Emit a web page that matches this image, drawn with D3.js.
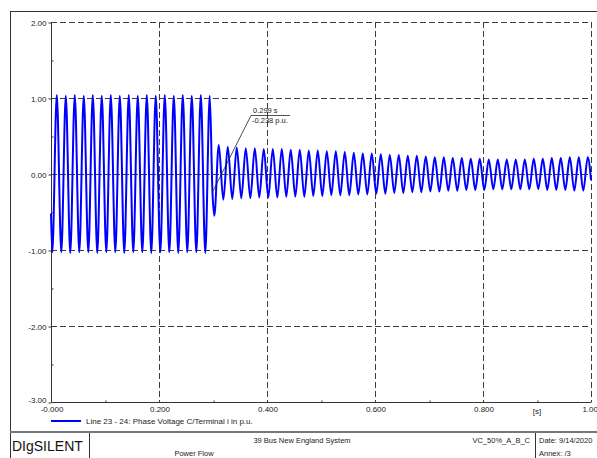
<!DOCTYPE html>
<html>
<head>
<meta charset="utf-8">
<script src="https://cdn.jsdelivr.net/npm/d3@7"></script>
<style>
  html, body { margin: 0; padding: 0; background: #ffffff; }
  svg { display: block; font-family: "Liberation Sans", Arial, sans-serif; }
</style>
</head>
<body>
<svg id="chart" width="597" height="458"></svg>
<script>
// Simulated phase voltage C at terminal i (Line 23 - 24), p.u.
// Samples at the waveform extrema: steady state, fault at ~0.29 s, damped aftermath.
const timeS = [
  0.0000, 0.0024, 0.0107, 0.0191, 0.0274, 0.0357, 0.0440, 0.0524, 0.0607, 0.0691,
  0.0774, 0.0857, 0.0940, 0.1024, 0.1107, 0.1191, 0.1274, 0.1357, 0.1440, 0.1524,
  0.1607, 0.1691, 0.1774, 0.1857, 0.1940, 0.2024, 0.2107, 0.2191, 0.2274, 0.2357,
  0.2440, 0.2524, 0.2607, 0.2691, 0.2774, 0.2857, 0.2940, 0.2990, 0.3024, 0.3107,
  0.3191, 0.3274, 0.3357, 0.3440, 0.3524, 0.3607, 0.3691, 0.3774, 0.3857, 0.3940,
  0.4024, 0.4107, 0.4191, 0.4274, 0.4357, 0.4440, 0.4524, 0.4607, 0.4691, 0.4774,
  0.4857, 0.4940, 0.5024, 0.5107, 0.5191, 0.5274, 0.5357, 0.5440, 0.5524, 0.5607,
  0.5691, 0.5774, 0.5857, 0.5940, 0.6024, 0.6107, 0.6191, 0.6274, 0.6357, 0.6440,
  0.6524, 0.6607, 0.6691, 0.6774, 0.6857, 0.6940, 0.7024, 0.7107, 0.7191, 0.7274,
  0.7357, 0.7440, 0.7524, 0.7607, 0.7691, 0.7774, 0.7857, 0.7940, 0.8024, 0.8107,
  0.8191, 0.8274, 0.8357, 0.8440, 0.8524, 0.8607, 0.8691, 0.8774, 0.8857, 0.8940,
  0.9024, 0.9107, 0.9191, 0.9274, 0.9357, 0.9440, 0.9524, 0.9607, 0.9691, 0.9774,
  0.9857, 0.9940, 1.0000
];
const voltagePU = [
  -0.52, -1.03,  1.04, -1.03,  1.03, -1.04,  1.04, -1.03,  1.03, -1.03,
   1.04, -1.04,  1.03, -1.03,  1.04, -1.03,  1.03, -1.04,  1.04, -1.03,
   1.03, -1.03,  1.04, -1.04,  1.03, -1.03,  1.04, -1.03,  1.03, -1.04,
   1.04, -1.03,  1.03, -1.03,  1.04, -1.04,  1.03, -0.238, -0.55, 0.38,
  -0.34,  0.36, -0.33,  0.35, -0.32,  0.34, -0.32,  0.34, -0.31,  0.33,
  -0.31,  0.33, -0.31,  0.33, -0.30,  0.32, -0.30,  0.32, -0.30,  0.31,
  -0.29,  0.31, -0.29,  0.30, -0.28,  0.30, -0.28,  0.29, -0.28,  0.28,
  -0.27,  0.27, -0.27,  0.27, -0.26,  0.26, -0.26,  0.25, -0.25,  0.25,
  -0.25,  0.24, -0.24,  0.24, -0.24,  0.23, -0.23,  0.22, -0.23,  0.22,
  -0.22,  0.21, -0.22,  0.21, -0.21,  0.20, -0.21,  0.20, -0.21,  0.19,
  -0.20,  0.19, -0.20,  0.19, -0.20,  0.19, -0.20,  0.19, -0.20,  0.20,
  -0.20,  0.20, -0.21,  0.21, -0.21,  0.21, -0.21,  0.22, -0.22,  0.22,
  -0.22,  0.22, -0.08
];

const xTicks = [0, 0.2, 0.4, 0.6, 0.8, 1.0];
const xTickLabels = ["-0.000", "0.200", "0.400", "0.600", "0.800", "1.00"];
const xMinorTicks = [0.1, 0.3, 0.5, 0.7, 0.9];
const yTicks = [-3, -2, -1, 0, 1, 2];
const yTickLabels = ["-3.00", "-2.00", "-1.00", "0.00", "1.00", "2.00"];
const yMinorTicks = [-2.5, -1.5, -0.5, 0.5, 1.5];

const cursorTime = 0.299;
const cursorValue = -0.238;
const legendText = "Line 23 - 24: Phase Voltage C/Terminal i in p.u.";

const svg = d3.select("#chart");
const plot = { left: 51, right: 591, top: 22, bottom: 402 };
const x = d3.scaleLinear().domain([0, 1]).range([plot.left, plot.right]);
const y = d3.scaleLinear().domain([-3, 2]).range([plot.bottom, plot.top]);
const ink = "#333333";
const font = "8px";
const smallFont = "7.5px";

// page frame
svg.append("line").attr("x1", 10).attr("x2", 597).attr("y1", 11.5).attr("y2", 11.5)
  .attr("stroke", ink).attr("stroke-width", 1);
svg.append("line").attr("x1", 10.5).attr("x2", 10.5).attr("y1", 11).attr("y2", 458)
  .attr("stroke", ink).attr("stroke-width", 1);

// dashed grid
const grid = svg.append("g").attr("stroke", "#3c3c3c").attr("stroke-width", 1)
  .attr("stroke-dasharray", "6,3");
grid.selectAll("line.v").data(xTicks.slice(1)).join("line")
  .attr("x1", d => Math.round(x(d)) + 0.5).attr("x2", d => Math.round(x(d)) + 0.5)
  .attr("y1", plot.top).attr("y2", plot.bottom);
grid.selectAll("line.h").data(yTicks.slice(1)).join("line")
  .attr("x1", plot.left).attr("x2", plot.right)
  .attr("y1", d => Math.round(y(d)) + 0.5).attr("y2", d => Math.round(y(d)) + 0.5);

// axes
const yAxis = svg.append("g").attr("transform", `translate(${plot.left + 0.5},0.5)`)
  .call(d3.axisLeft(y).tickValues(yTicks).tickSize(3).tickPadding(2)
    .tickFormat((d, i) => yTickLabels[i]));
const yMinor = svg.append("g").attr("transform", `translate(${plot.left + 0.5},0.5)`)
  .call(d3.axisLeft(y).tickValues(yMinorTicks).tickSize(-2).tickFormat(""));
const xAxis = svg.append("g").attr("transform", `translate(0.5,${plot.bottom + 0.5})`)
  .call(d3.axisBottom(x).tickValues(xTicks).tickSize(0).tickPadding(4)
    .tickFormat((d, i) => xTickLabels[i]));
const xMinor = svg.append("g").attr("transform", `translate(0.5,${plot.bottom + 0.5})`)
  .call(d3.axisBottom(x).tickValues(xMinorTicks).tickSize(-2).tickFormat(""));
[yAxis, yMinor, xAxis, xMinor].forEach(g => {
  g.select(".domain").attr("stroke", ink);
  g.selectAll(".tick line").attr("stroke", ink);
  g.selectAll("text").attr("fill", "#222").style("font-size", font)
    .style("font-family", "'Liberation Sans', Arial, sans-serif");
});
yAxis.select(".domain").attr("d", `M0,${plot.top}V${plot.bottom}`);
yMinor.select(".domain").remove();
xMinor.select(".domain").remove();
xAxis.select(".domain").attr("d", `M${plot.left},0H${plot.right}`);
// lowest value label sits a little high so it clears the time labels
yAxis.selectAll(".tick text").filter(d => d === -3).attr("dy", "0.05em");
// the last label is flush with the page edge
xAxis.selectAll(".tick text").filter((d, i) => i === xTicks.length - 1)
  .attr("text-anchor", "end").attr("x", 597 - x(1));

// unit label sits at the 0.9 s position
svg.append("text").attr("x", x(0.9)).attr("y", plot.bottom + 12)
  .attr("text-anchor", "middle").style("font-size", font).attr("fill", "#222").text("[s]");

// waveform
const samples = timeS.map((t, i) => [t, voltagePU[i]]);
const line = d3.line().x(d => x(d[0])).y(d => y(d[1])).curve(d3.curveMonotoneX);
svg.append("path").datum(samples).attr("d", line)
  .attr("fill", "none").attr("stroke", "#0000ff").attr("stroke-width", 2)
  .attr("stroke-linejoin", "round");

// cursor annotation
const labelX = 251, labelY = 115.5;
svg.append("line").attr("x1", x(cursorTime)).attr("y1", y(cursorValue))
  .attr("x2", labelX).attr("y2", labelY).attr("stroke", "#222").attr("stroke-width", 0.8);
svg.append("line").attr("x1", labelX).attr("x2", labelX + 39).attr("y1", labelY).attr("y2", labelY)
  .attr("stroke", "#222").attr("stroke-width", 0.8);
svg.append("text").attr("x", labelX + 2).attr("y", labelY - 2.5).style("font-size", smallFont)
  .attr("fill", "#222").text(`${cursorTime.toFixed(3)} s`);
svg.append("text").attr("x", labelX + 1).attr("y", labelY + 7.5).style("font-size", smallFont)
  .attr("fill", "#222").text(`${cursorValue.toFixed(3)} p.u.`);

// legend
svg.append("line").attr("x1", 51).attr("x2", 81).attr("y1", 421).attr("y2", 421)
  .attr("stroke", "#0000ff").attr("stroke-width", 2);
svg.append("text").attr("x", 86).attr("y", 424).style("font-size", font)
  .attr("fill", "#222").text(legendText);

// title block
svg.append("line").attr("x1", 10).attr("x2", 597).attr("y1", 432).attr("y2", 432)
  .attr("stroke", "#777").attr("stroke-width", 2);
svg.append("line").attr("x1", 89.5).attr("x2", 89.5).attr("y1", 433).attr("y2", 458)
  .attr("stroke", ink);
svg.append("line").attr("x1", 535.5).attr("x2", 535.5).attr("y1", 433).attr("y2", 458)
  .attr("stroke", ink);
svg.append("text").attr("x", 12).attr("y", 451).style("font-size", "14px")
  .attr("fill", "#111").text("DIgSILENT");
const block = [
  { t: "39 Bus New England System", x: 302, y: 443, a: "middle" },
  { t: "Power Flow", x: 194, y: 456, a: "middle" },
  { t: "VC_50%_A_B_C", x: 530, y: 443, a: "end" },
  { t: "Date: 9/14/2020", x: 539, y: 443, a: "start" },
  { t: "Annex:   /3", x: 539, y: 456, a: "start" }
];
svg.selectAll("text.block").data(block).join("text").attr("class", "block")
  .attr("x", d => d.x).attr("y", d => d.y).attr("text-anchor", d => d.a)
  .style("font-size", smallFont).attr("fill", "#222").text(d => d.t);
</script>
</body>
</html>
